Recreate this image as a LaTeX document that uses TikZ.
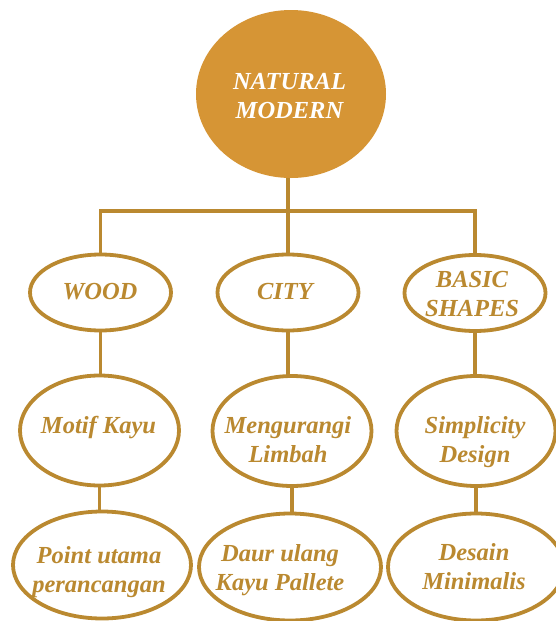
\documentclass[tikz,border=0pt]{standalone}
\usepackage{fontspec}
\setmainfont{Liberation Serif}
\usetikzlibrary{shapes.geometric}
\definecolor{gold}{RGB}{186,137,48}
\definecolor{ochre}{RGB}{214,149,53}
\newcommand{\twolines}[2]{\begin{tabular}[t]{@{}c@{}}#1\\#2\end{tabular}}
\begin{document}
\begin{tikzpicture}[x=1pt,y=-1pt,
  ell/.style={ellipse, draw=gold, line width=3.8pt, inner sep=0pt, outer sep=0pt},
  lvltwo/.style={ell, minimum width=141pt, minimum height=76pt},
  lvlthree/.style={ell, minimum width=159pt, minimum height=110pt},
  lvlfour/.style={ell, minimum width=178pt, minimum height=107pt},
  conn/.style={draw=gold, line width=3.8pt},
  lbl/.style={text=gold, font=\fontsize{24.5}{29.5}\selectfont\bfseries\itshape, anchor=base, inner sep=0pt}]
\useasboundingbox (0,0) rectangle (555,621);
\fill[white] (0,0) rectangle (555,621);

% ellipses
\node[ellipse, fill=ochre, inner sep=0pt, outer sep=0pt, minimum width=190pt, minimum height=168pt] (top) at (291,94) {};
\node[lvltwo] (wood)  at (100.5,292.5) {};
\node[lvltwo] (city)  at (288,292.5) {};
\node[lvltwo] (basic) at (475,293) {};
\node[lvlthree] (motif) at (99.5,430.5) {};
\node[lvlthree] (meng)  at (292,431) {};
\node[lvlthree] (simp)  at (476,431) {};
\node[lvlfour] (point)  at (102,565) {};
\node[lvlfour, minimum width=182pt] (daur) at (290,567) {};
\node[lvlfour, minimum width=176pt] (desain) at (476,567) {};

% texts
\node[lbl, text=white] (toptext) at (289.5,89) {\twolines{NATURAL}{MODERN}};
\node[lbl] (woodtext)  at (100,299) {WOOD};
\node[lbl] (citytext)  at (285,299) {CITY};
\node[lbl] (basictext) at (472,287) {\twolines{BASIC}{SHAPES}};
\node[lbl] (motiftext) at (98.5,433) {Motif Kayu};
\node[lbl] (mengtext)  at (288,433) {\twolines{Mengurangi}{Limbah}};
\node[lbl] (simptext)  at (475,433) {\twolines{Simplicity}{Design}};
\node[lbl] (pointtext) at (99,563) {\twolines{Point utama}{perancangan}};
\node[lbl] (daurtext)  at (280,561) {\twolines{Daur ulang}{Kayu Pallete}};
\node[lbl] (desaintext) at (474,560) {\twolines{Desain}{Minimalis}};

% connectors
\coordinate (bar) at (288,211);
\draw[conn] (city.north) -- (city.north |- top.south);
\draw[conn] (wood.north) -- (wood.north |- bar) -- (basic.north |- bar) -- (basic.north);
\draw[conn] (wood.south) -- (wood.south |- motif.north);
\draw[conn] (city.south) -- (city.south |- meng.north);
\draw[conn] (basic.south) -- (basic.south |- simp.north);
\draw[conn] (motif.south) -- (motif.south |- point.north);
\draw[conn] (meng.south) -- (meng.south |- daur.north);
\draw[conn] (simp.south) -- (simp.south |- desain.north);
\end{tikzpicture}
\end{document}
